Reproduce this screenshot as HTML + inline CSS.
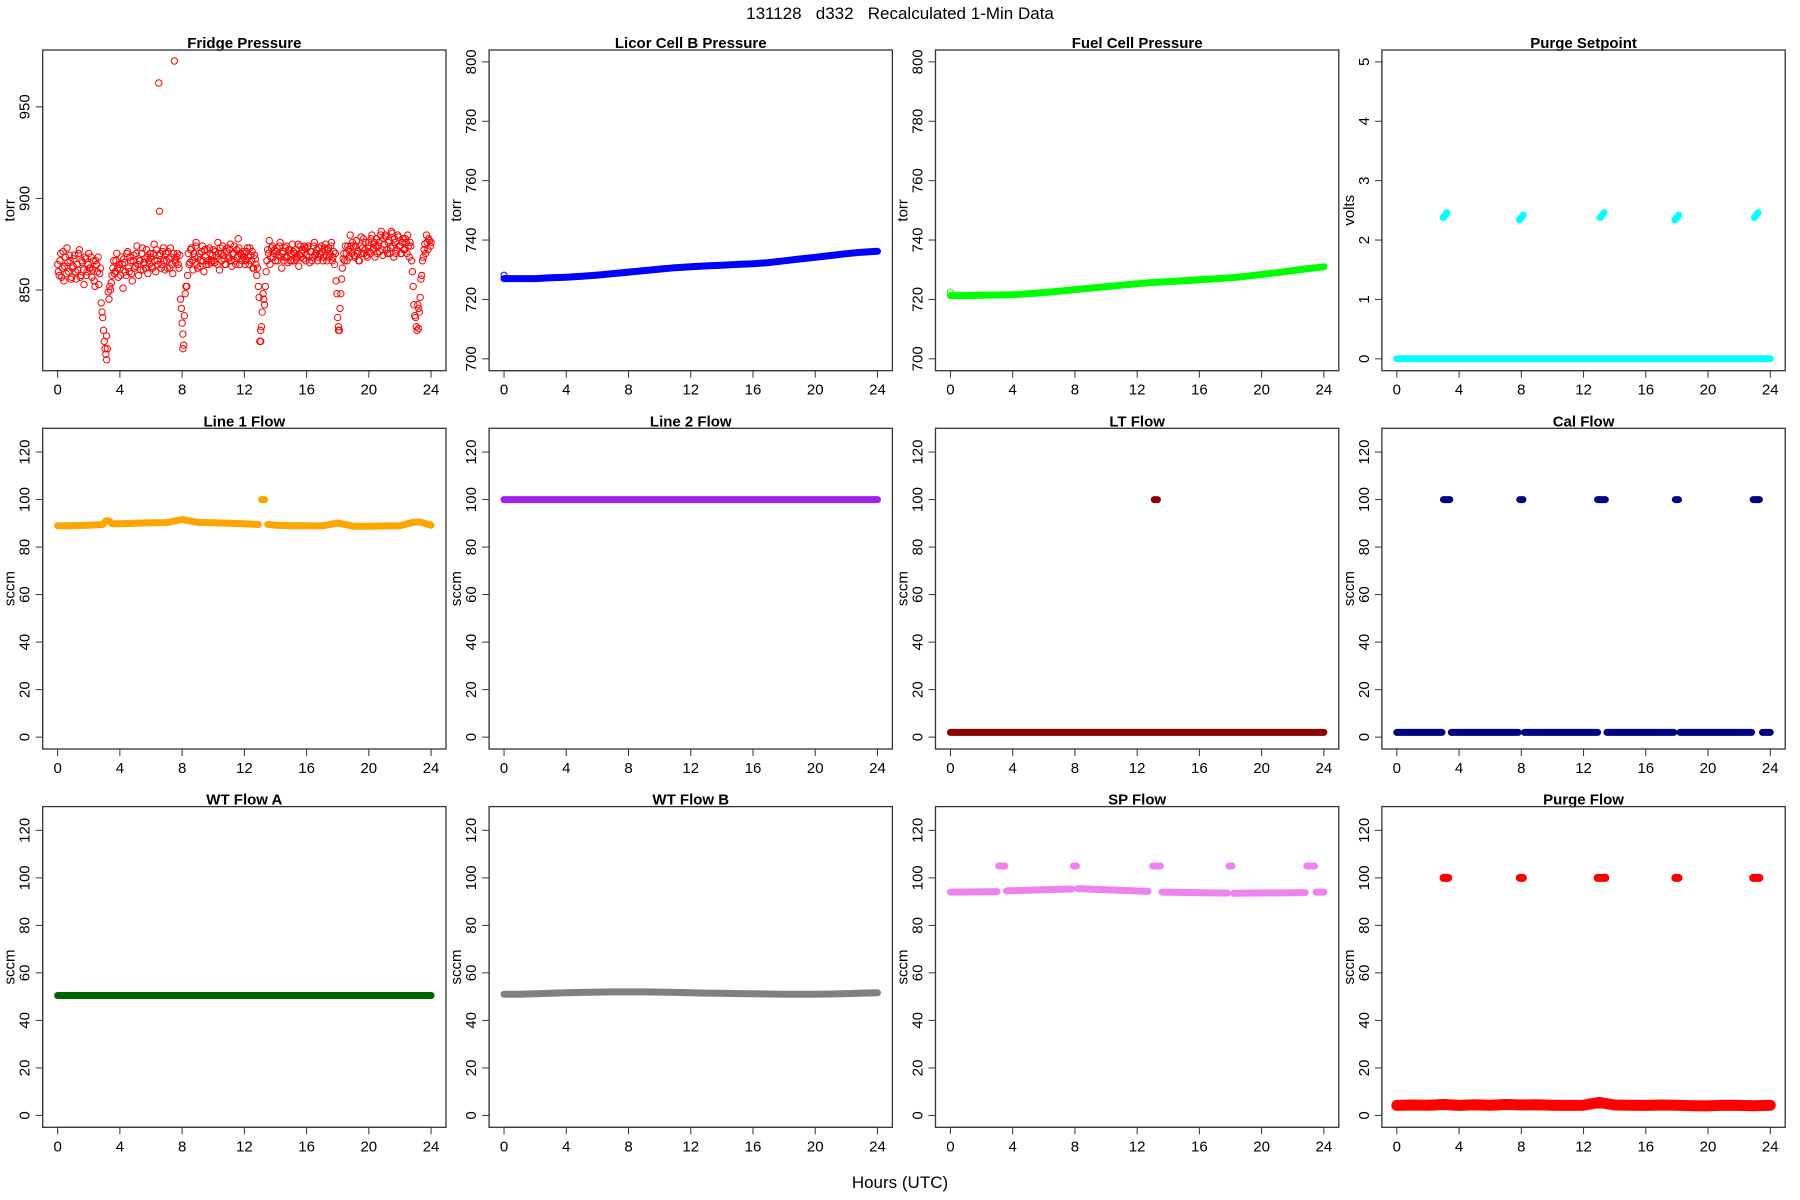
<!DOCTYPE html>
<html><head><meta charset="utf-8"><title>131128 d332 Recalculated 1-Min Data</title>
<style>html,body{margin:0;padding:0;background:#fff}svg{display:block}text{font-family:"Liberation Sans",sans-serif}</style></head>
<body>
<svg id="fig" width="1800" height="1200" viewBox="0 0 1800 1200" xmlns="http://www.w3.org/2000/svg">
<text x="900" y="19" text-anchor="middle" font-size="17" style="white-space:pre">131128   d332   Recalculated 1-Min Data</text>
<text x="900" y="1188" text-anchor="middle" font-size="17">Hours (UTC)</text>
</svg>
<script>
// ---- data ----
const fridgeTorr = [
864,858,870,862,855,868,873,860,866,857,
863,869,856,861,872,858,865,853,867,860,
870,862,857,866,852,864,868,859,843,835,
822,815,818,845,850,858,866,860,870,857,
862,868,851,865,858,871,860,866,855,869,
863,874,858,866,870,861,867,872,859,864,
868,862,875,860,866,963,870,864,873,861,
866,871,862,868,859,975,865,870,862,845,
832,820,848,852,870,865,873,861,868,876,
862,870,866,874,860,868,872,864,870,866,
872,865,869,876,861,870,874,867,864,873,
868,875,863,870,866,872,878,864,869,871,
870,866,873,864,869,871,862,867,858,852,
822,830,848,842,860,872,877,868,874,870,
866,873,869,876,862,871,868,874,865,872,
870,875,866,872,868,863,874,870,867,873,
869,874,865,871,868,876,870,866,873,869,
871,868,875,866,873,870,876,868,864,855,
835,828,848,862,870,874,866,872,880,870,
874,868,877,871,866,879,873,870,876,868,
876,870,880,873,868,878,874,871,882,869,
875,879,870,877,873,881,868,876,872,879,
874,870,878,872,876,880,868,874,860,842,
835,828,840,846,858,868,875,880,872,877,876];
const fridgeTorrB = [
860,866,857,871,863,859,865,869,856,862,
867,860,864,870,857,866,861,868,858,864,
862,868,861,855,866,860,853,862,838,828,
818,825,849,852,854,862,859,866,862,864,
858,864,867,860,870,862,868,859,866,862,
870,864,866,861,873,865,862,868,866,870,
863,870,866,872,864,869,862,871,866,870,
862,867,873,864,870,866,868,864,869,840,
826,836,852,858,864,872,866,870,874,864,
868,863,871,866,872,864,866,873,865,869,
866,871,864,870,873,866,869,864,871,867,
872,866,870,874,864,868,873,870,866,868,
864,871,868,873,866,862,869,864,862,846,
828,838,845,852,866,870,864,873,868,872,
871,866,874,868,870,866,873,868,872,866,
866,871,870,867,875,869,868,872,874,866,
873,868,871,866,874,869,872,868,870,874,
866,873,869,872,868,874,866,871,870,848,
830,840,856,867,866,870,874,868,874,876,
869,874,870,866,874,870,878,872,869,874,
871,878,872,876,874,870,876,880,872,878,
880,872,876,870,882,874,878,870,880,874,
870,876,872,878,870,874,876,866,852,836,
830,842,838,856,866,872,870,876,878,874];
const fridgeExtraHours = [6.55,3.15,8.05,13.05,18.05,23.2];
const fridgeExtraTorr = [893,812,818,822,828,829];
const hourly = [0,1,2,3,4,5,6,7,8,9,10,11,12,13,14,15,16,17,18,19,20,21,22,23,24];
const licorTorr = [727,727,727,727.3,727.5,727.8,728.2,728.7,729.2,729.7,730.2,730.7,731,731.3,731.5,731.8,732,732.4,733,733.6,734.2,734.8,735.4,735.9,736.2];
const fuelTorr = [721.3,721.3,721.4,721.5,721.6,721.9,722.3,722.8,723.3,723.8,724.3,724.8,725.3,725.7,726,726.3,726.6,726.9,727.3,727.8,728.4,729,729.7,730.4,731];
const setpointZero = [0,0,0,0,0,0,0,0,0,0,0,0,0,0,0,0,0,0,0,0,0,0,0,0,0];
const pulseHours = [3.1,8.0,13.2,18.0,23.1];
const setpointPulse = [2.42,2.38,2.42,2.38,2.42];
const l1Hours = [0,1,2,2.9,3.1,3.3,3.5,4,5,6,7,7.9,8.1,9,10,11,12,12.9,null,13.5,14,15,16,17,17.9,18.1,19,20,21,22,22.9,23.3,24];
const l1Vals  = [89,89,89.2,89.5,91,91,89.8,89.8,90,90.2,90.3,91.5,91.5,90.4,90.2,90,89.8,89.5,null,89.5,89.2,89,89,88.9,90,90,88.8,88.8,88.9,89,90.5,90.5,89.2];
const l1PulseHours = [13.1,13.3];
const l1PulseVals = [100,100];
const line2Flow = [100,100,100,100,100,100,100,100,100,100,100,100,100,100,100,100,100,100,100,100,100,100,100,100,100];
const ltFlow = [2,2,2,2,2,2,2,2,2,2,2,2,2,2,2,2,2,2,2,2,2,2,2,2,2];
const ltPulseHours = [13.1,13.3];
const ltPulseVals = [100,100];
const calHours = [0,2.9,null,3.5,7.8,null,8.2,12.9,null,13.5,17.8,null,18.2,22.8,null,23.5,24];
const calVals  = [2,2,null,2,2,null,2,2,null,2,2,null,2,2,null,2,2];
const calPulseStart = [3.0,7.9,12.9,17.9,22.9];
const calPulseEnd   = [3.4,8.1,13.4,18.1,23.3];
const calPulseVal   = [100,100,100,100,100];
const wtA = [50.5,50.5,50.5,50.5,50.5,50.5,50.5,50.5,50.5,50.5,50.5,50.5,50.5,50.5,50.5,50.5,50.5,50.5,50.5,50.5,50.5,50.5,50.5,50.5,50.5];
const wtB = [51,51,51.2,51.4,51.6,51.8,51.9,52,52,52,51.9,51.8,51.6,51.5,51.4,51.3,51.2,51.1,51,51,51,51.1,51.3,51.5,51.6];
const spHours = [0,3,null,3.6,7.8,null,8.2,12.7,null,13.6,17.8,null,18.2,22.8,null,23.5,24];
const spVals  = [94,94.2,null,94.5,95.3,null,95.5,94.3,null,94,93.6,null,93.5,93.8,null,94,94];
const spPulseStart = [3.1,7.9,13.0,17.9,22.9];
const spPulseEnd   = [3.5,8.1,13.5,18.1,23.4];
const spPulseVal   = [105,105,105,105,105];
const purgeBase = [4.2,4.4,4.3,4.6,4.2,4.5,4.3,4.6,4.4,4.5,4.3,4.2,4.3,5.5,4.4,4.3,4.2,4.4,4.3,4.1,4.0,4.3,4.2,4.1,4.3];
const purgePulseStart = [3.0,7.9,12.9,17.9,22.9];
const purgePulseEnd   = [3.3,8.1,13.4,18.1,23.3];
const purgePulseVal   = [100,100,100,100,100];

// ---- layout ----
const NS = "http://www.w3.org/2000/svg";
const svg = document.getElementById('fig');
const W = 403.3, H = 320.7, X0 = 42.7, Y0 = 50, DX = 446.4, DY = 378.3;
const XMIN = -0.96, XMAX = 24.96;
function el(tag, attrs, parent){const e=document.createElementNS(NS,tag);for(const k in attrs)e.setAttribute(k,attrs[k]);(parent||svg).appendChild(e);return e;}

function panel(col,row,title,ylab,ymin,ymax,yticks,key){
  const L = X0+col*DX, T = Y0+row*DY;
  const g = el('g',{});
  
  
  const sx = h => L + (h-XMIN)/(XMAX-XMIN)*W;
  const sy = v => T + H - (v-ymin)/(ymax-ymin)*H;
  const t = el('text',{x:L+W/2,y:T-2,'text-anchor':'middle','font-size':15,'font-weight':'bold'},g);
  t.textContent = title;
  
  
  const b = el('rect',{x:L,y:T,width:W,height:H,fill:'none',stroke:'#333','stroke-width':1.3},g);
  
  
  const xa = el('g',{},g);
  
  
  el('line',{x1:sx(0),x2:sx(24),y1:T+H,y2:T+H,stroke:'#333'},xa);
  for(let h=0;h<=24;h+=4){
    el('line',{x1:sx(h),x2:sx(h),y1:T+H,y2:T+H+7,stroke:'#333'},xa);
    const tx = el('text',{x:sx(h),y:T+H+24,'text-anchor':'middle','font-size':15},xa);
    tx.textContent = h;
  }
  const ya = el('g',{},g);
  
  
  el('line',{x1:L,x2:L,y1:sy(yticks[0]),y2:sy(yticks[yticks.length-1]),stroke:'#333'},ya);
  yticks.forEach(v=>{
    el('line',{x1:L-7,x2:L,y1:sy(v),y2:sy(v),stroke:'#333'},ya);
    const ty = el('text',{x:0,y:0,'text-anchor':'middle','font-size':15,transform:`translate(${L-13},${sy(v)}) rotate(-90)`},ya);
    ty.textContent = v;
  });
  const yl = el('text',{x:0,y:0,'text-anchor':'middle','font-size':15,transform:`translate(${L-28},${T+H/2}) rotate(-90)`},g);
  yl.textContent = ylab;
  
  
  const s = el('g',{},g);
  
  
  return {sx,sy,s};
}
function band(p,xs,ys,color,w){
  let d='',pen=false;
  for(let i=0;i<xs.length;i++){
    if(xs[i]===null||ys[i]===null){pen=false;continue;}
    d += (pen?'L':'M')+p.sx(xs[i]).toFixed(1)+' '+p.sy(ys[i]).toFixed(1)+' ';
    pen=true;
  }
  el('path',{d:d,fill:'none',stroke:color,'stroke-width':w,'stroke-linecap':'round','stroke-linejoin':'round'},p.s);
}
function pulses(p,starts,ends,vals,color,w){
  for(let i=0;i<starts.length;i++){
    const x1=p.sx(starts[i]), x2=p.sx(ends[i]);
    el('line',{x1:x1,x2:Math.max(x2,x1+0.5),y1:p.sy(vals[i]),y2:p.sy(vals[i]),stroke:color,'stroke-width':w,'stroke-linecap':'round'},p.s);
  }
}
function circles(p,xs,ys,color,r){
  for(let i=0;i<xs.length;i++) el('circle',{cx:p.sx(xs[i]),cy:p.sy(ys[i]),r:r,fill:'none',stroke:color,'stroke-width':1},p.s);
}
const flowTicks=[0,20,40,60,80,100,120];

// Fridge
let p = panel(0,0,'Fridge Pressure','torr',806,981,[850,900,950],'fridge-pressure');
circles(p, fridgeTorr.map((v,i)=>i*0.1), fridgeTorr, '#ff0000', 3.2);
circles(p, fridgeTorrB.map((v,i)=>i*0.1+0.05), fridgeTorrB, '#ff0000', 3.2);
circles(p, fridgeExtraHours, fridgeExtraTorr, '#ff0000', 3.2);
// Licor
p = panel(1,0,'Licor Cell B Pressure','torr',696,804,[700,720,740,760,780,800],'licor-pressure');
band(p,hourly,licorTorr,'#0000ff',7);
circles(p,[0],[728.2],'#0000ff',3);
// Fuel cell
p = panel(2,0,'Fuel Cell Pressure','torr',696,804,[700,720,740,760,780,800],'fuel-cell-pressure');
band(p,hourly,fuelTorr,'#00ff00',7);
circles(p,[0],[722.5],'#00ff00',3);
// Purge setpoint
p = panel(3,0,'Purge Setpoint','volts',-0.2,5.2,[0,1,2,3,4,5],'purge-setpoint');
band(p,hourly,setpointZero,'#00ffff',7);
pulseHours.forEach((h,i)=>{
  el('line',{x1:p.sx(h-0.12),x2:p.sx(h+0.12),y1:p.sy(setpointPulse[i]-0.04),y2:p.sy(setpointPulse[i]+0.04),stroke:'#00ffff','stroke-width':7,'stroke-linecap':'round'},p.s);
});
// Line 1
p = panel(0,1,'Line 1 Flow','sccm',-5,130,flowTicks,'line1-flow');
band(p,l1Hours,l1Vals,'#ffa500',7);
band(p,l1PulseHours,l1PulseVals,'#ffa500',7);
// Line 2
p = panel(1,1,'Line 2 Flow','sccm',-5,130,flowTicks,'line2-flow');
band(p,hourly,line2Flow,'#a020f0',7);
// LT
p = panel(2,1,'LT Flow','sccm',-5,130,flowTicks,'lt-flow');
band(p,hourly,ltFlow,'#8b0000',7);
band(p,ltPulseHours,ltPulseVals,'#8b0000',7);
// Cal
p = panel(3,1,'Cal Flow','sccm',-5,130,flowTicks,'cal-flow');
band(p,calHours,calVals,'#000080',7);
pulses(p,calPulseStart,calPulseEnd,calPulseVal,'#000080',7);
// WT A
p = panel(0,2,'WT Flow A','sccm',-5,130,flowTicks,'wt-flow-a');
band(p,hourly,wtA,'#006400',7);
// WT B
p = panel(1,2,'WT Flow B','sccm',-5,130,flowTicks,'wt-flow-b');
band(p,hourly,wtB,'#808080',7);
// SP
p = panel(2,2,'SP Flow','sccm',-5,130,flowTicks,'sp-flow');
band(p,spHours,spVals,'#ee82ee',7);
pulses(p,spPulseStart,spPulseEnd,spPulseVal,'#ee82ee',7);
// Purge flow
p = panel(3,2,'Purge Flow','sccm',-5,130,flowTicks,'purge-flow');
band(p,hourly,purgeBase,'#ff0000',11);
pulses(p,purgePulseStart,purgePulseEnd,purgePulseVal,'#ff0000',8);
</script>
</body></html>
